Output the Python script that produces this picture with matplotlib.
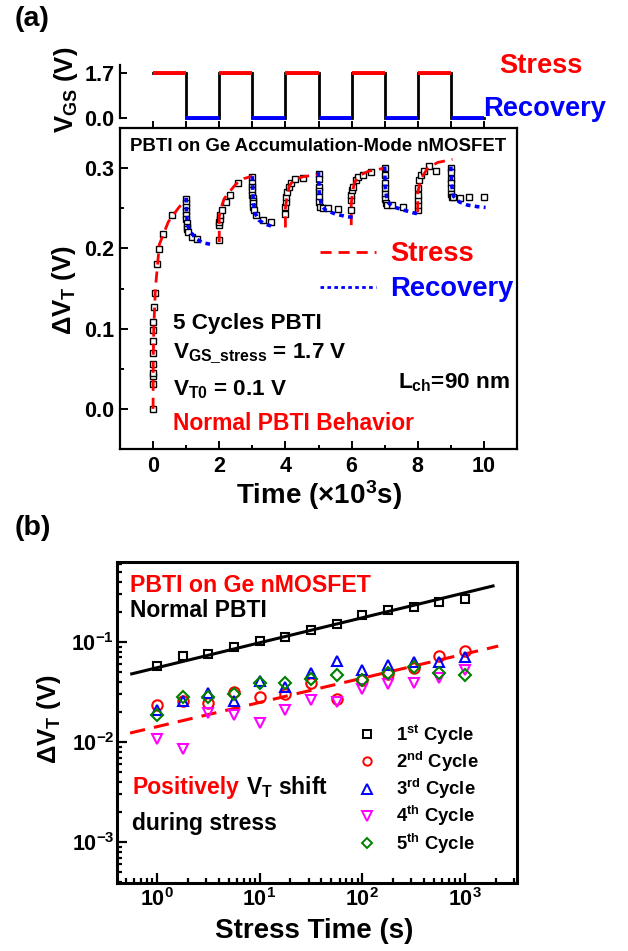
import matplotlib
matplotlib.use('Agg')
import matplotlib.pyplot as plt
from matplotlib.ticker import MultipleLocator, FixedLocator, LogLocator, NullFormatter, LogFormatterMathtext
from matplotlib.lines import Line2D

plt.rcParams['font.family'] = ['Liberation Sans', 'DejaVu Sans']
plt.rcParams['font.weight'] = 'bold'
plt.rcParams['mathtext.fontset'] = 'custom'
plt.rcParams['mathtext.rm'] = 'Liberation Sans:bold'
plt.rcParams['mathtext.bf'] = 'Liberation Sans:bold'
plt.rcParams['mathtext.it'] = 'Liberation Sans:bold'
plt.rcParams['mathtext.default'] = 'bf'

# ---------------- data: panel (a) ----------------
vgs_stress = 1.7
vgs_recovery = 0.0
stress_start = [0, 2, 4, 6, 8]
recovery_start = [1, 3, 5, 7, 9]
phase_len = 1

# measured points (time in 10^3 s, dVT in V)
c1_st_t = [0.000, 0.001, 0.002, 0.002, 0.003, 0.004, 0.006, 0.008, 0.010, 0.015, 0.06, 0.11, 0.19, 0.31, 0.57]
c1_st_v = [0.000, 0.031, 0.041, 0.045, 0.056, 0.070, 0.085, 0.098, 0.108, 0.127, 0.145, 0.181, 0.199, 0.218, 0.242]
c1_rc_t = [1.00, 1.00, 1.00, 1.00, 1.01, 1.01, 1.02, 1.03, 1.04, 1.07, 1.17, 1.34]
c1_rc_v = [0.261, 0.257, 0.252, 0.246, 0.241, 0.236, 0.231, 0.227, 0.224, 0.220, 0.214, 0.212]
c2_st_t = [2.00, 2.00, 2.00, 2.01, 2.01, 2.07, 2.20, 2.32, 2.57]
c2_st_v = [0.210, 0.229, 0.233, 0.237, 0.242, 0.248, 0.258, 0.267, 0.282]
c2_rc_t = [3.00, 3.00, 3.00, 3.00, 3.00, 3.01, 3.01, 3.02, 3.03, 3.06, 3.11, 3.31, 3.57]
c2_rc_v = [0.289, 0.281, 0.277, 0.273, 0.267, 0.263, 0.259, 0.256, 0.252, 0.248, 0.241, 0.235, 0.233]
c3_st_t = [4.00, 4.00, 4.01, 4.03, 4.05, 4.10, 4.18, 4.28, 4.53]
c3_st_v = [0.243, 0.252, 0.258, 0.264, 0.270, 0.277, 0.282, 0.286, 0.288]
c3_rc_t = [5.00, 5.00, 5.00, 5.00, 5.01, 5.02, 5.04, 5.13, 5.28, 5.58]
c3_rc_v = [0.293, 0.287, 0.277, 0.271, 0.264, 0.258, 0.252, 0.250, 0.250, 0.249]
c4_st_t = [5.99, 5.99, 5.99, 6.02, 6.04, 6.12, 6.19, 6.34, 6.59]
c4_st_v = [0.248, 0.260, 0.266, 0.273, 0.277, 0.285, 0.289, 0.291, 0.295]
c4_rc_t = [7.00, 7.00, 7.00, 7.01, 7.01, 7.02, 7.04, 7.08, 7.23, 7.56]
c4_rc_v = [0.300, 0.291, 0.281, 0.275, 0.268, 0.262, 0.256, 0.254, 0.254, 0.252]
c5_st_t = [8.00, 8.00, 8.00, 8.01, 8.01, 8.05, 8.10, 8.20, 8.33, 8.56]
c5_st_v = [0.248, 0.254, 0.260, 0.266, 0.275, 0.285, 0.291, 0.296, 0.303, 0.296]
c5_rc_t = [9.00, 9.00, 9.00, 9.00, 9.01, 9.01, 9.03, 9.07, 9.27, 9.55, 10.00]
c5_rc_v = [0.300, 0.295, 0.287, 0.281, 0.275, 0.268, 0.264, 0.264, 0.263, 0.264, 0.264]

# fitted stress (red) and recovery (blue) curves
c1_sf_t = [0.00, 0.005, 0.02, 0.07, 0.19, 0.46, 0.76, 1.00]
c1_sf_v = [0.000, 0.060, 0.100, 0.150, 0.205, 0.233, 0.250, 0.262]
c1_rf_t = [1.00, 1.01, 1.03, 1.10, 1.30, 1.50, 1.75]
c1_rf_v = [0.263, 0.245, 0.232, 0.222, 0.212, 0.207, 0.205]
c2_sf_t = [2.00, 2.00, 2.05, 2.15, 2.30, 2.50, 2.75, 3.00]
c2_sf_v = [0.208, 0.240, 0.250, 0.262, 0.270, 0.280, 0.287, 0.290]
c2_rf_t = [3.00, 3.02, 3.07, 3.20, 3.40, 3.65]
c2_rf_v = [0.290, 0.265, 0.245, 0.235, 0.230, 0.227]
c3_sf_t = [4.00, 4.00, 4.05, 4.12, 4.25, 4.50, 4.95]
c3_sf_v = [0.226, 0.250, 0.265, 0.278, 0.285, 0.289, 0.292]
c3_rf_t = [5.00, 5.02, 5.08, 5.20, 5.50, 5.80, 6.12]
c3_rf_v = [0.295, 0.270, 0.255, 0.248, 0.243, 0.240, 0.238]
c4_sf_t = [5.99, 5.99, 6.02, 6.08, 6.20, 6.50, 7.00]
c4_sf_v = [0.229, 0.255, 0.268, 0.281, 0.290, 0.296, 0.300]
c4_rf_t = [7.00, 7.02, 7.08, 7.25, 7.55, 7.80, 8.10]
c4_rf_v = [0.302, 0.275, 0.258, 0.252, 0.248, 0.245, 0.242]
c5_sf_t = [8.00, 8.00, 8.10, 8.30, 8.60, 9.05]
c5_sf_v = [0.245, 0.270, 0.287, 0.300, 0.307, 0.311]
c5_rf_t = [9.00, 9.02, 9.08, 9.25, 9.50, 9.80, 10.05]
c5_rf_v = [0.302, 0.280, 0.265, 0.258, 0.254, 0.252, 0.251]

# ---------------- data: panel (b) ----------------
stress_time = [1, 1.78, 3.16, 5.62, 10, 17.8, 31.6, 56.2, 100, 178, 316, 562, 1000]
cyc1 = [0.058, 0.072, 0.076, 0.089, 0.102, 0.112, 0.132, 0.151, 0.186, 0.209, 0.224, 0.251, 0.269]
cyc2 = [0.0234, 0.0257, 0.0245, 0.0316, 0.0284, 0.030, 0.039, 0.027, 0.042, 0.048, 0.055, 0.073, 0.082]
cyc3 = [0.021, 0.026, 0.031, 0.0256, 0.041, 0.0351, 0.049, 0.065, 0.0525, 0.0589, 0.0636, 0.063, 0.070]
cyc4 = [0.0106, 0.0086, 0.0196, 0.0186, 0.0156, 0.021, 0.0263, 0.025, 0.0342, 0.038, 0.0393, 0.0437, 0.0525]
cyc5 = [0.0186, 0.0284, 0.0281, 0.030, 0.0387, 0.039, 0.043, 0.047, 0.042, 0.049, 0.0568, 0.049, 0.047]
fit1_t = [0.57, 1870]
fit1_v = [0.048, 0.363]
fit2_t = [0.55, 2100]
fit2_v = [0.0123, 0.091]
cycle_labels = ['1$^{st}$ Cycle', '2$^{nd}$ Cycle', '3$^{rd}$ Cycle', '4$^{th}$ Cycle', '5$^{th}$ Cycle']

# ---------------- figure ----------------
W, H = 628, 951
fig = plt.figure(figsize=(W / 100, H / 100), dpi=100)

def px(l, t, r, b):
    return [l / W, 1 - b / H, (r - l) / W, (b - t) / H]

ax0 = fig.add_axes(px(120, 60, 517, 128))
ax1 = fig.add_axes(px(120, 128, 517, 449))
ax2 = fig.add_axes(px(117, 562, 517, 883))

RED = '#ff0000'
BLUE = '#0000ff'
GREEN = '#008000'
MAG = '#ff00ff'
TICKFS = 15.5
LABFS = 18.5
XLABFS = 20

# ---- top panel: gate waveform ----
wave_t, wave_v = [], []
for s, r in zip(stress_start, recovery_start):
    wave_t += [s, s + phase_len, r, r + phase_len]
    wave_v += [vgs_stress, vgs_stress, vgs_recovery, vgs_recovery]
ax0.plot(wave_t, wave_v, color='black', lw=2.0, solid_joinstyle='miter')
for s in stress_start:
    ax0.plot([s, s + phase_len], [vgs_stress, vgs_stress], color=RED, lw=2.8, solid_capstyle='butt')
for r in recovery_start:
    ax0.plot([r, r + phase_len], [vgs_recovery, vgs_recovery], color=BLUE, lw=2.8, solid_capstyle='butt')
ax0.set_xlim(-1, 11)
ax0.set_ylim(-0.378, 2.19)
for sp in ['top', 'right', 'bottom']:
    ax0.spines[sp].set_visible(False)
ax0.spines['left'].set_bounds(0, 2.0)
ax0.spines['left'].set_linewidth(1.6)
ax0.yaxis.set_major_locator(FixedLocator([0.0, 1.7]))
ax0.set_yticklabels(['0.0', '1.7'])
ax0.xaxis.set_major_locator(FixedLocator(list(range(0, 11))))
ax0.tick_params(axis='x', direction='in', length=5, width=1.4, labelbottom=False)
ax0.tick_params(axis='y', direction='in', length=5, width=1.4, labelsize=TICKFS, pad=4)
ax0.set_ylabel('V$_{GS}$ (V)', fontsize=LABFS, fontweight='bold')
ax0.yaxis.set_label_coords(-0.10, 0.56)
ax0.patch.set_alpha(0)

# ---- panel (a) main ----
stress_meas = [(c1_st_t, c1_st_v), (c2_st_t, c2_st_v), (c3_st_t, c3_st_v), (c4_st_t, c4_st_v), (c5_st_t, c5_st_v)]
rec_meas = [(c1_rc_t, c1_rc_v), (c2_rc_t, c2_rc_v), (c3_rc_t, c3_rc_v), (c4_rc_t, c4_rc_v), (c5_rc_t, c5_rc_v)]
stress_fit = [(c1_sf_t, c1_sf_v), (c2_sf_t, c2_sf_v), (c3_sf_t, c3_sf_v), (c4_sf_t, c4_sf_v), (c5_sf_t, c5_sf_v)]
rec_fit = [(c1_rf_t, c1_rf_v), (c2_rf_t, c2_rf_v), (c3_rf_t, c3_rf_v), (c4_rf_t, c4_rf_v), (c5_rf_t, c5_rf_v)]

for t, v in stress_meas + rec_meas:
    ax1.plot(t, v, ls='none', marker='s', ms=4.2, mfc='white', mec='black', mew=1.0, zorder=3)
for t, v in stress_fit:
    ax1.plot(t, v, color=RED, lw=2.0, ls=(0, (4, 2.5)), zorder=4)
for t, v in rec_fit:
    ax1.plot(t, v, color=BLUE, lw=2.6, ls=(0, (1.3, 1.2)), zorder=4)

ax1.set_xlim(-1, 11)
ax1.set_ylim(-0.05, 0.35)
ax1.xaxis.set_major_locator(MultipleLocator(2))
ax1.xaxis.set_minor_locator(MultipleLocator(1))
ax1.yaxis.set_major_locator(FixedLocator([0.0, 0.1, 0.2, 0.3]))
ax1.yaxis.set_minor_locator(FixedLocator([0.05, 0.15, 0.25]))
ax1.yaxis.set_major_formatter(matplotlib.ticker.FormatStrFormatter('%.1f'))
ax1.tick_params(which='both', direction='in', top=False, right=False, width=1.4)
ax1.tick_params(which='major', length=6, labelsize=TICKFS)
ax1.tick_params(which='minor', length=3)
ax1.tick_params(axis='x', pad=5)
ax1.tick_params(axis='y', pad=4)
for sp in ax1.spines.values():
    sp.set_linewidth(1.6)
ax1.set_xlabel('Time (\u00d710$^{3}$s)', fontsize=XLABFS, fontweight='bold')
ax1.xaxis.set_label_coords(0.5, -0.09)
ax1.set_ylabel('\u0394V$_{T}$ (V)', fontsize=LABFS, fontweight='bold')
ax1.yaxis.set_label_coords(-0.106, 0.495)

ax1.text(0.025, 0.928, 'PBTI on Ge Accumulation-Mode nMOSFET', transform=ax1.transAxes,
         fontsize=13.4, fontweight='bold', va='baseline')
ax1.text(0.1335, 0.373, '5 Cycles PBTI', transform=ax1.transAxes, fontsize=16.2, va='baseline')
ax1.text(0.1335, 0.2826, 'V$_{GS\\_stress}$ = 1.7 V', transform=ax1.transAxes, fontsize=16.2, va='baseline')
ax1.text(0.1335, 0.168, 'V$_{T0}$ = 0.1 V', transform=ax1.transAxes, fontsize=16.2, va='baseline')
ax1.text(0.1335, 0.059, 'Normal PBTI Behavior', transform=ax1.transAxes, fontsize=16.5, color=RED, va='baseline')
ax1.text(0.982, 0.1894, 'L$_{ch}$=90 nm', transform=ax1.transAxes, fontsize=16.2, ha='right', va='baseline')

leg_a = [Line2D([], [], color=RED, lw=2.0, ls=(0, (4, 2.5))),
         Line2D([], [], color=BLUE, lw=2.0, ls=(0, (1.3, 1.2)))]
la = ax1.legend(leg_a, ['Stress', 'Recovery'], loc='upper left', bbox_to_anchor=(0.504, 0.647),
                frameon=False, fontsize=19.7, handlelength=2.05, handletextpad=0.5,
                labelspacing=0.33, borderpad=0, borderaxespad=0)
la.get_texts()[0].set_color(RED)
la.get_texts()[1].set_color(BLUE)

fig.text(499 / W, 1 - 72.7 / H, 'Stress', color=RED, fontsize=19.6, va='baseline')
fig.text(483 / W, 1 - 116 / H, 'Recovery', color=BLUE, fontsize=19.6, va='baseline')
fig.text(15 / W, 1 - 26 / H, '(a)', fontsize=20.5, va='baseline')
fig.text(15 / W, 1 - 535 / H, '(b)', fontsize=20.5, va='baseline')

# ---- panel (b) ----
ax2.set_xscale('log')
ax2.set_yscale('log')
ax2.plot(fit1_t, fit1_v, color='black', lw=2.2)
ax2.plot(fit2_t, fit2_v, color=RED, lw=2.2, ls=(0, (5, 3)))
mk = dict(ls='none', mfc='none', ms=7.5, mew=1.5)
ax2.plot(stress_time, cyc1, marker='s', mec='black', **dict(mk, ms=6.3))
ax2.plot(stress_time, cyc2, marker='o', mec=RED, **mk)
ax2.plot(stress_time, cyc3, marker='^', mec=BLUE, **mk)
ax2.plot(stress_time, cyc4, marker='v', mec=MAG, **mk)
ax2.plot(stress_time, cyc5, marker='D', mec=GREEN, **dict(mk, ms=6.5))

ax2.set_xlim(0.41, 3200)
ax2.set_ylim(3.9e-4, 0.63)
ax2.xaxis.set_major_locator(LogLocator(base=10, numticks=10))
ax2.xaxis.set_minor_locator(LogLocator(base=10, subs=range(2, 10), numticks=20))
ax2.yaxis.set_major_locator(FixedLocator([1e-3, 1e-2, 1e-1]))
ax2.yaxis.set_minor_locator(LogLocator(base=10, subs=range(2, 10), numticks=20))
ax2.xaxis.set_minor_formatter(NullFormatter())
ax2.yaxis.set_minor_formatter(NullFormatter())
ax2.xaxis.set_major_formatter(LogFormatterMathtext())
ax2.yaxis.set_major_formatter(LogFormatterMathtext())
ax2.tick_params(which='both', direction='in', top=False, right=False, width=1.6)
ax2.tick_params(which='major', length=7, labelsize=TICKFS)
ax2.tick_params(which='minor', length=3.5)
ax2.tick_params(axis='y', pad=2)
ax2.tick_params(axis='x', pad=4)
for sp in ax2.spines.values():
    sp.set_linewidth(2.2)
ax2.set_xlabel('Stress Time (s)', fontsize=XLABFS, fontweight='bold')
ax2.xaxis.set_label_coords(0.4925, -0.108)
ax2.set_ylabel('\u0394V$_{T}$ (V)', fontsize=LABFS, fontweight='bold')
ax2.yaxis.set_label_coords(-0.135, 0.511)

ax2.text(0.0325, 0.9075, 'PBTI on Ge nMOSFET', transform=ax2.transAxes, fontsize=16.7, color=RED, va='baseline')
ax2.text(0.0325, 0.8277, 'Normal PBTI', transform=ax2.transAxes, fontsize=16.5, va='baseline')
ax2.text(0.0375, 0.2763, 'Positively', transform=ax2.transAxes, fontsize=16.5, color=RED, va='baseline')
ax2.text(0.323, 0.2763, 'V$_{T}$ shift', transform=ax2.transAxes, fontsize=16.5, va='baseline')
ax2.text(0.0375, 0.165, 'during stress', transform=ax2.transAxes, fontsize=16.5, va='baseline')

leg_b = [Line2D([], [], ls='none', marker='s', mfc='none', mec='black', ms=5.5, mew=1.4),
         Line2D([], [], ls='none', marker='o', mfc='none', mec=RED, ms=6, mew=1.4),
         Line2D([], [], ls='none', marker='^', mfc='none', mec=BLUE, ms=6.5, mew=1.4),
         Line2D([], [], ls='none', marker='v', mfc='none', mec=MAG, ms=6.5, mew=1.4),
         Line2D([], [], ls='none', marker='D', mfc='none', mec=GREEN, ms=5.5, mew=1.4)]
lb = ax2.legend(leg_b, cycle_labels, loc='upper left', bbox_to_anchor=(0.6025, 0.50), frameon=False,
                fontsize=13.3, handlelength=1.0, handletextpad=1.05, labelspacing=0.17,
                borderpad=0, borderaxespad=0)

fig.savefig('out.png', dpi=100)
